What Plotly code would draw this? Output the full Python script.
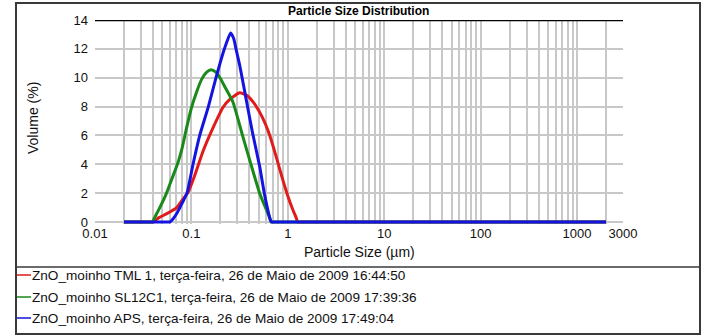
import plotly.graph_objects as go

# Volume distributions (%) against particle size (µm) for three ZnO samples
tml_size = [0.02, 0.025, 0.03, 0.035, 0.040, 0.046, 0.055, 0.070, 0.081, 0.093, 0.108, 0.132,
            0.167, 0.213, 0.25, 0.317, 0.38, 0.45, 0.54, 0.65, 0.76, 0.88, 1.0, 1.12, 1.22,
            1.27, 1.4, 2, 5, 20, 100, 500, 2000]
tml_vol = [0, 0, 0, 0, 0, 0.3, 0.56, 0.98, 1.54, 2.1, 3.2, 4.9,
           6.5, 7.95, 8.5, 8.95, 8.75, 8.2, 7.3, 6.0, 4.5, 3.0, 1.8, 0.9, 0.3,
           0, 0, 0, 0, 0, 0, 0, 0]

sl_size = [0.02, 0.025, 0.03, 0.035, 0.039, 0.043, 0.047, 0.052, 0.056, 0.062, 0.068, 0.074,
           0.080, 0.089, 0.100, 0.113, 0.128, 0.145, 0.160, 0.178, 0.200, 0.225, 0.27, 0.34,
           0.43, 0.51, 0.60, 0.65, 0.67, 0.75, 1, 2, 5, 20, 100, 500, 2000]
sl_vol = [0, 0, 0, 0, 0, 0.5, 1.0, 1.6, 2.1, 2.9, 3.6, 4.3,
          5.1, 6.5, 7.9, 9.0, 9.9, 10.4, 10.55, 10.4, 9.95, 9.3, 8.3, 5.97,
          3.64, 2.0, 0.84, 0.26, 0, 0, 0, 0, 0, 0, 0, 0, 0]

aps_size = [0.02, 0.025, 0.03, 0.035, 0.04, 0.045, 0.05, 0.055, 0.060, 0.066, 0.072, 0.080,
            0.090, 0.104, 0.122, 0.150, 0.180, 0.220, 0.255, 0.275, 0.29, 0.317, 0.37, 0.43,
            0.51, 0.57, 0.62, 0.66, 0.68, 0.75, 1, 2, 5, 20, 100, 500, 2000]
aps_vol = [0, 0, 0, 0, 0, 0, 0, 0, 0, 0.3, 0.7, 1.3,
           2.0, 4.0, 6.0, 8.0, 10.0, 12.0, 13.1, 12.7, 12.0, 10.86, 8.5, 6.2,
           3.87, 2.0, 0.84, 0.15, 0, 0, 0, 0, 0, 0, 0, 0, 0]

series_names = [
    "ZnO_moinho TML 1, terça-feira, 26 de Maio de 2009 16:44:50",
    "ZnO_moinho SL12C1, terça-feira, 26 de Maio de 2009 17:39:36",
    "ZnO_moinho APS, terça-feira, 26 de Maio de 2009 17:49:04",
]
series_colors = ["#e11b1b", "#198a19", "#1414e0"]

x_major = [0.01, 0.1, 1, 10, 100, 1000, 3000]
x_major_text = ["0.01", "0.1", "1", "10", "100", "1000", "3000"]
y_ticks = [0, 2, 4, 6, 8, 10, 12, 14]

FONT = "Liberation Sans, Arial, sans-serif"

# every 1..9 multiple of each decade gets a grid line; only majors are labelled
grid_vals, grid_text = [], []
for e in range(-2, 4):
    for m in range(1, 10):
        v = round(m * 10 ** e, 6)
        if v > 3000:
            break
        grid_vals.append(v)
        grid_text.append("")
for v, t in zip(x_major, x_major_text):
    if v in grid_vals:
        grid_text[grid_vals.index(v)] = t
    else:
        grid_vals.append(v)
        grid_text.append(t)

fig = go.Figure()
for xs, ys, name, col in zip([tml_size, sl_size, aps_size], [tml_vol, sl_vol, aps_vol],
                             series_names, series_colors):
    fig.add_trace(go.Scatter(x=xs, y=ys, mode="lines", name=name,
                             line=dict(color=col, width=3, shape="spline", smoothing=0.5),
                             showlegend=False))

W, H = 714, 336
L, R, T, B = 95, 91, 20, 112
pw, ph = W - L - R, H - T - B


def px(x):
    return (x - L) / pw


def py(y):
    return (H - B - y) / ph


shapes = [
    # outer frame and divider above the legend block
    dict(type="rect", xref="paper", yref="paper", x0=px(16), x1=px(700), y0=py(3), y1=py(334),
         line=dict(color="#3a3a3a", width=2), layer="below"),
    dict(type="line", xref="paper", yref="paper", x0=px(16), x1=px(700), y0=py(267), y1=py(267),
         line=dict(color="#3a3a3a", width=1.5)),
    # heavy rule along the top of the plot
    dict(type="line", xref="paper", yref="y", x0=0, x1=1, y0=14, y1=14,
         line=dict(color="black", width=2.5)),
]

annotations = [
    dict(text="<b>Particle Size Distribution</b>", xref="paper", yref="paper",
         x=px(358), y=py(11), xanchor="center", yanchor="middle", showarrow=False,
         font=dict(family=FONT, size=12, color="black")),
    dict(text="Particle Size (µm)", xref="paper", yref="paper",
         x=px(359), y=py(252), xanchor="center", yanchor="middle", showarrow=False,
         font=dict(family=FONT, size=14, color="#111")),
    dict(text="Volume (%)", xref="paper", yref="paper", textangle=-90,
         x=px(33), y=py(118), xanchor="center", yanchor="middle", showarrow=False,
         font=dict(family=FONT, size=14, color="#111")),
]

legend_rows = [275, 297, 318]
for name, col, row in zip(series_names, series_colors, legend_rows):
    shapes.append(dict(type="line", xref="paper", yref="paper", x0=px(17), x1=px(31),
                       y0=py(row), y1=py(row), line=dict(color=col, width=1.5)))
    annotations.append(dict(text=name, xref="paper", yref="paper", x=px(30), y=py(row),
                            xanchor="left", yanchor="middle", showarrow=False,
                            font=dict(family=FONT, size=13.6, color="#111")))

fig.update_layout(
    width=W, height=H,
    margin=dict(l=L, r=R, t=T, b=B),
    paper_bgcolor="white", plot_bgcolor="white",
    shapes=shapes, annotations=annotations,
    xaxis=dict(type="log", range=[-2, 3.4771], tickmode="array", tickvals=grid_vals,
               ticktext=grid_text, showgrid=True, gridcolor="#c8c8c8", gridwidth=1.5,
               zeroline=False, showline=False, ticks="", ticklabelstandoff=0,
               tickfont=dict(family=FONT, size=13, color="#111")),
    yaxis=dict(range=[-0.14, 14], tickmode="array", tickvals=y_ticks, showgrid=True,
               gridcolor="#c8c8c8", gridwidth=1.5, zeroline=False, showline=False,
               ticks="", ticklabelstandoff=6,
               tickfont=dict(family=FONT, size=13, color="#111")),
)

fig.write_html("out.html")
